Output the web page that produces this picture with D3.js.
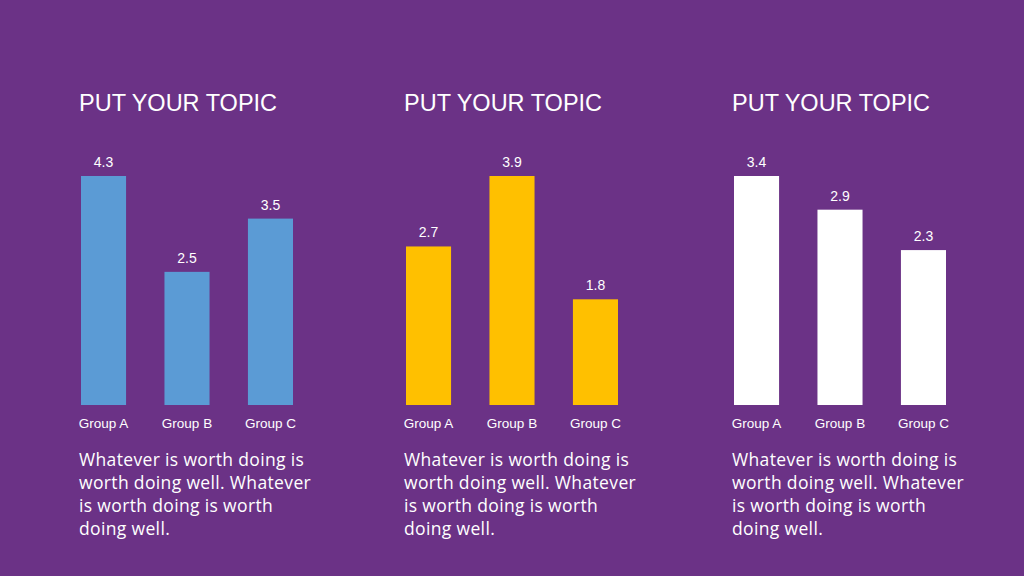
<!DOCTYPE html>
<html>
<head>
<meta charset="utf-8">
<script src="https://cdn.jsdelivr.net/npm/d3@7"></script>
<style>
  body { margin: 0; background: #6b3286; }
  svg { display: block; }
</style>
</head>
<body>
<svg id="chart" width="1024" height="576"></svg>
<script>
var groups = ["Group A", "Group B", "Group C"];
var valuesLeft = [4.3, 2.5, 3.5];
var valuesMiddle = [2.7, 3.9, 1.8];
var valuesRight = [3.4, 2.9, 2.3];
var titles = ["PUT YOUR TOPIC", "PUT YOUR TOPIC", "PUT YOUR TOPIC"];
var bodyLines = [
  "Whatever is worth doing is",
  "worth doing well. Whatever",
  "is worth doing is worth",
  "doing well."
];

var svg = d3.select("#chart");

var panels = [
  { x0: 81, values: valuesLeft, color: "#5b9bd5" },
  { x0: 406, values: valuesMiddle, color: "#ffc000" },
  { x0: 734, values: valuesRight, color: "#ffffff" }
];

var baseY = 405,
  topY = 176;

panels.forEach(function (p, i) {
  var g = svg.append("g");

  var xScale = d3.scaleBand().domain(groups).range([p.x0, p.x0 + 212]).paddingInner(0.46).paddingOuter(0);
  var yScale = d3.scaleLinear().domain([0, d3.max(p.values)]).range([baseY, topY]);

  // title
  g.append("text")
    .attr("x", p.x0 - 2)
    .attr("y", 111)
    .style("font-family", "'Liberation Sans', Arial, sans-serif")
    .style("font-size", "23.5px")
    .style("fill", "#fff")
    .text(titles[i]);

  g.selectAll("rect")
    .data(p.values)
    .enter()
    .append("rect")
    .attr("x", function (d, j) { return xScale(groups[j]); })
    .attr("y", function (d) { return yScale(d); })
    .attr("width", xScale.bandwidth())
    .attr("height", function (d) { return baseY - yScale(d); })
    .style("fill", p.color);

  g.selectAll(".val")
    .data(p.values)
    .enter()
    .append("text")
    .attr("class", "val")
    .attr("x", function (d, j) { return xScale(groups[j]) + xScale.bandwidth() / 2; })
    .attr("y", function (d) { return yScale(d) - 9; })
    .attr("text-anchor", "middle")
    .style("font-family", "'Liberation Sans', Arial, sans-serif")
    .style("font-size", "14px")
    .style("fill", "#fff")
    .text(function (d) { return d.toFixed(1); });

  var axis = g.append("g")
    .attr("transform", "translate(0," + baseY + ")")
    .call(d3.axisBottom(xScale).tickSize(0).tickPadding(13));
  axis.select(".domain").remove();
  axis.selectAll("text")
    .style("font-family", "'Liberation Sans', Arial, sans-serif")
    .style("font-size", "13.5px")
    .style("fill", "#fff");

  g.selectAll(".body")
    .data(bodyLines)
    .enter()
    .append("text")
    .attr("class", "body")
    .attr("x", p.x0 - 2)
    .attr("y", function (d, k) { return 466 + k * 23; })
    .style("font-family", "'Open Sans', sans-serif")
    .style("font-size", "17.5px")
    .style("letter-spacing", "0.35px")
    .style("fill", "#fff")
    .text(function (d) { return d; });
});
</script>
</body>
</html>
